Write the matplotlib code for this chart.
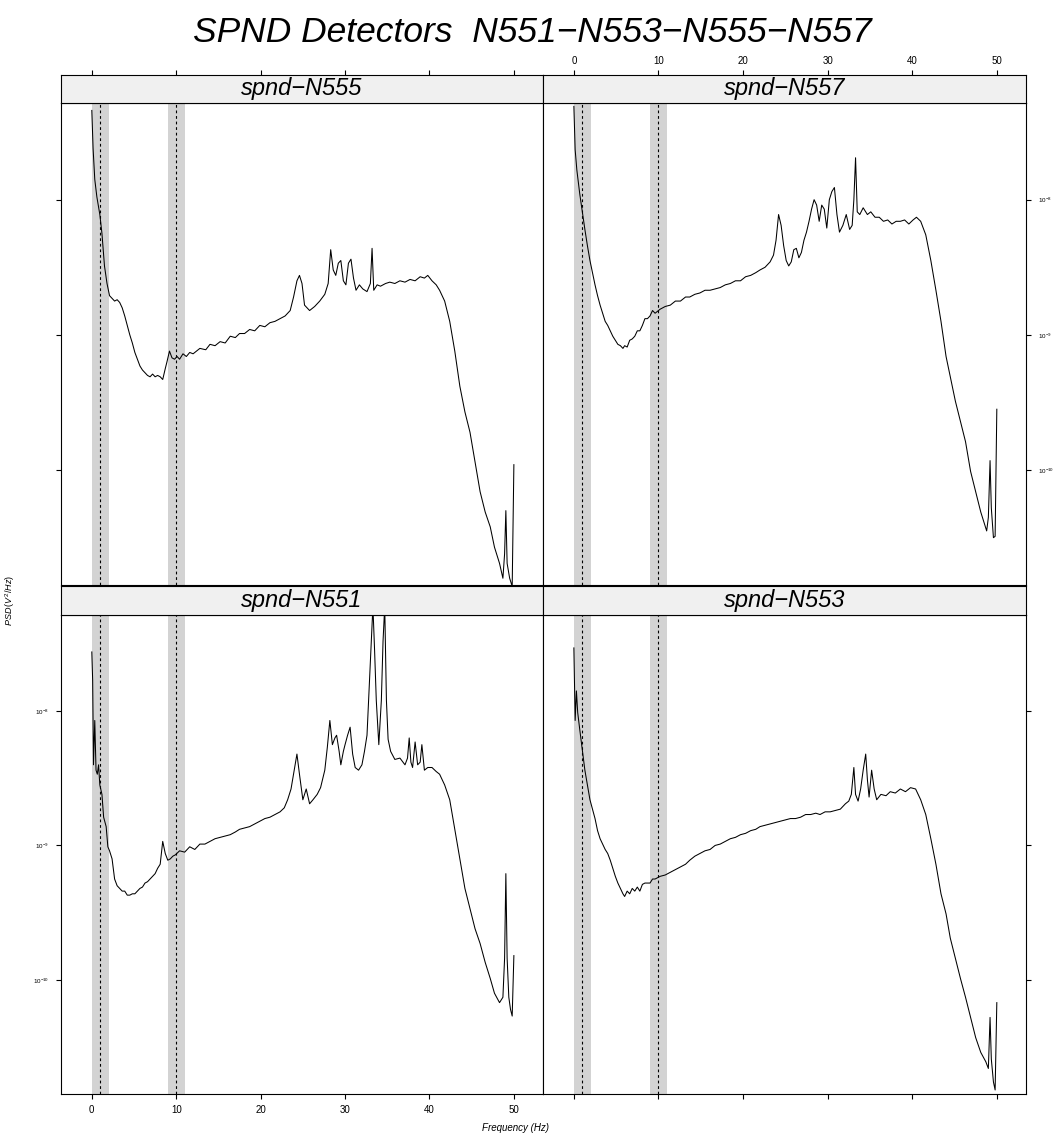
import numpy as np
import matplotlib
matplotlib.use("Agg")
import matplotlib.pyplot as plt

plt.rcParams['font.family'] = ['Liberation Sans', 'DejaVu Sans']
plt.rcParams['mathtext.fontset'] = 'custom'
plt.rcParams['mathtext.rm'] = 'Liberation Sans'
plt.rcParams['mathtext.it'] = 'Liberation Sans:italic'

TITLE = "SPND Detectors  N551\u2212N553\u2212N555\u2212N557"
panel_names = ["spnd\u2212N555", "spnd\u2212N557", "spnd\u2212N551", "spnd\u2212N553"]
x_label = "Frequency (Hz)"
y_label = r"$PSD\,(V^2/Hz)$"
x_ticks = [0, 10, 20, 30, 40, 50]
y_ticks = [1e-8, 1e-9, 1e-10]
y_ticklabels = [r"$10^{-8}$", r"$10^{-9}$", r"$10^{-10}$"]
bands = [(0, 2), (9, 11)]
band_centers = [1, 10]

# --- spnd-N555 (frequency in Hz, log10 of PSD)
f_555 = [0, 0.15, 0.35, 0.6, 0.95, 1.2, 1.5, 1.8, 2.1, 2.4, 2.7, 3.0, 3.3, 3.6, 3.9, 4.2, 4.5, 4.8,
         5.1, 5.4, 5.7, 6.0, 6.3, 6.6, 6.9, 7.2, 7.5, 7.8, 8.1, 8.4, 8.7, 8.9, 9.2, 9.5, 9.8, 10.1,
         10.4, 10.8, 11.2, 11.6, 12.0, 12.8, 13.5, 14.0, 14.6, 15.2, 15.8, 16.4, 17.0, 17.5, 18.1,
         18.7, 19.3, 19.9, 20.5, 21.1, 21.7, 22.3, 22.9, 23.5, 23.9, 24.3, 24.6, 24.9, 25.2, 25.8,
         26.4, 27.0, 27.6, 28.0, 28.3, 28.6, 28.9, 29.2, 29.5, 29.8, 30.1, 30.4, 30.7, 31.0, 31.3,
         31.7, 32.1, 32.6, 33.0, 33.2, 33.4, 33.8, 34.2, 34.8, 35.3, 35.9, 36.5, 37.1, 37.7, 38.3,
         38.9, 39.4, 39.8, 40.3, 40.8, 41.2, 41.8, 42.4, 43.0, 43.6, 44.2, 44.8, 45.4, 46.0, 46.6,
         47.2, 47.7, 48.3, 48.7, 48.9, 49.05, 49.2, 49.5, 49.8, 50.0]
p_555 = [-7.34, -7.62, -7.85, -7.98, -8.11, -8.25, -8.49, -8.62, -8.71, -8.73, -8.75, -8.74, -8.76,
         -8.80, -8.86, -8.93, -9.00, -9.06, -9.13, -9.18, -9.23, -9.26, -9.28, -9.30, -9.31, -9.29,
         -9.31, -9.30, -9.31, -9.33, -9.25, -9.20, -9.12, -9.17, -9.18, -9.16, -9.18, -9.14, -9.16,
         -9.13, -9.14, -9.10, -9.11, -9.07, -9.08, -9.05, -9.06, -9.01, -9.02, -8.99, -8.99, -8.96,
         -8.97, -8.93, -8.94, -8.91, -8.90, -8.88, -8.86, -8.82, -8.72, -8.60, -8.56, -8.62, -8.78,
         -8.82, -8.79, -8.75, -8.70, -8.62, -8.37, -8.52, -8.56, -8.47, -8.45, -8.60, -8.63, -8.47,
         -8.44, -8.58, -8.67, -8.63, -8.66, -8.68, -8.62, -8.36, -8.67, -8.63, -8.64, -8.62, -8.61,
         -8.62, -8.60, -8.61, -8.59, -8.60, -8.57, -8.58, -8.56, -8.60, -8.63, -8.67, -8.75, -8.90,
         -9.12, -9.38, -9.57, -9.72, -9.94, -10.16, -10.31, -10.42, -10.57, -10.69, -10.80, -10.62,
         -10.30, -10.69, -10.80, -10.86, -9.96]

# --- spnd-N557
f_557 = [0, 0.15, 0.35, 0.7, 1.0, 1.3, 1.6, 1.9, 2.2, 2.5, 2.8, 3.1, 3.4, 3.7, 4.0, 4.3, 4.6, 4.9,
         5.2, 5.5, 5.8, 6.0, 6.3, 6.6, 6.9, 7.2, 7.5, 7.8, 8.1, 8.4, 8.7, 9.0, 9.3, 9.6, 10.2, 10.8,
         11.4, 12.0, 12.6, 13.2, 13.7, 14.3, 14.9, 15.5, 16.1, 16.7, 17.3, 17.9, 18.5, 19.1, 19.7,
         20.3, 20.9, 21.5, 22.0, 22.6, 23.2, 23.6, 23.9, 24.2, 24.5, 24.8, 25.1, 25.4, 25.7, 26.0,
         26.3, 26.6, 26.9, 27.2, 27.5, 27.8, 28.1, 28.4, 28.7, 29.0, 29.3, 29.6, 29.9, 30.2, 30.5,
         30.8, 31.1, 31.4, 31.8, 32.2, 32.6, 32.9, 33.1, 33.3, 33.5, 33.8, 34.2, 34.7, 35.1, 35.6,
         36.1, 36.6, 37.1, 37.6, 38.1, 38.6, 39.1, 39.6, 40.1, 40.5, 41.0, 41.6, 42.2, 42.8, 43.4,
         44.0, 44.5, 45.1, 45.7, 46.3, 46.9, 47.5, 48.1, 48.5, 48.8, 49.0, 49.2, 49.35, 49.6, 49.8,
         50.0]
p_557 = [-7.31, -7.63, -7.78, -7.96, -8.09, -8.22, -8.34, -8.45, -8.54, -8.63, -8.71, -8.78, -8.84,
         -8.90, -8.93, -8.97, -9.01, -9.04, -9.07, -9.08, -9.10, -9.08, -9.09, -9.04, -9.03, -9.01,
         -8.97, -8.97, -8.93, -8.88, -8.88, -8.86, -8.82, -8.84, -8.81, -8.79, -8.78, -8.75, -8.75,
         -8.72, -8.72, -8.70, -8.69, -8.67, -8.67, -8.66, -8.65, -8.63, -8.62, -8.60, -8.60, -8.57,
         -8.56, -8.54, -8.52, -8.50, -8.46, -8.41, -8.30, -8.11, -8.19, -8.34, -8.45, -8.49, -8.46,
         -8.37, -8.36, -8.43, -8.39, -8.30, -8.24, -8.16, -8.07, -8.00, -8.04, -8.16, -8.04, -8.07,
         -8.21, -8.00, -7.94, -7.91, -8.11, -8.24, -8.19, -8.11, -8.22, -8.19, -8.00, -7.69, -8.09,
         -8.11, -8.06, -8.11, -8.09, -8.13, -8.13, -8.16, -8.15, -8.18, -8.16, -8.16, -8.15, -8.18,
         -8.15, -8.13, -8.16, -8.26, -8.45, -8.67, -8.90, -9.16, -9.31, -9.49, -9.64, -9.79, -10.01,
         -10.16, -10.31, -10.39, -10.45, -10.35, -9.93, -10.28, -10.50, -10.49, -9.55]

# --- spnd-N551
f_551 = [0, 0.1, 0.2, 0.35, 0.5, 0.65, 0.8, 0.95, 1.2, 1.4, 1.7, 1.9, 2.1, 2.4, 2.7, 3.0, 3.3, 3.6,
         3.9, 4.2, 4.5, 4.8, 5.1, 5.4, 5.7, 6.0, 6.3, 6.6, 6.9, 7.2, 7.5, 7.8, 8.1, 8.4, 8.7, 9.0,
         9.3, 9.6, 9.9, 10.4, 11.0, 11.6, 12.2, 12.8, 13.4, 14.0, 14.6, 15.2, 15.8, 16.4, 17.0, 17.5,
         18.1, 18.7, 19.3, 19.9, 20.5, 21.1, 21.7, 22.3, 22.8, 23.2, 23.6, 23.9, 24.3, 24.6, 25.0,
         25.4, 25.8, 26.2, 26.7, 27.1, 27.6, 27.9, 28.2, 28.5, 28.8, 29.0, 29.3, 29.5, 29.8, 30.0,
         30.3, 30.6, 30.9, 31.2, 31.6, 32.0, 32.3, 32.6, 32.9, 33.1, 33.3, 33.5, 33.7, 34.0, 34.3,
         34.5, 34.7, 34.9, 35.1, 35.4, 35.9, 36.5, 37.1, 37.4, 37.6, 37.8, 38.0, 38.3, 38.6, 38.9,
         39.1, 39.4, 39.8, 40.3, 40.8, 41.2, 41.8, 42.4, 43.0, 43.6, 44.2, 44.8, 45.4, 46.0, 46.6,
         47.2, 47.7, 48.3, 48.7, 48.9, 49.05, 49.2, 49.4, 49.6, 49.8, 50.0]
p_551 = [-7.56, -7.77, -8.40, -8.07, -8.44, -8.47, -8.40, -8.55, -8.62, -8.79, -8.86, -9.01, -9.04,
         -9.10, -9.25, -9.30, -9.32, -9.34, -9.34, -9.37, -9.37, -9.36, -9.36, -9.34, -9.32, -9.31,
         -9.28, -9.27, -9.25, -9.23, -9.21, -9.17, -9.14, -8.97, -9.06, -9.11, -9.10, -9.08, -9.07,
         -9.04, -9.05, -9.01, -9.03, -8.99, -8.99, -8.97, -8.95, -8.94, -8.93, -8.92, -8.90, -8.88,
         -8.87, -8.86, -8.84, -8.82, -8.80, -8.79, -8.77, -8.75, -8.72, -8.66, -8.58, -8.47, -8.32,
         -8.47, -8.66, -8.58, -8.69, -8.66, -8.62, -8.57, -8.44, -8.27, -8.07, -8.25, -8.20, -8.18,
         -8.30, -8.40, -8.30, -8.25, -8.18, -8.12, -8.32, -8.42, -8.44, -8.40, -8.30, -8.18, -7.77,
         -7.48, -7.22, -7.55, -7.92, -8.25, -7.92, -7.48, -7.22, -7.92, -8.21, -8.30, -8.36, -8.35,
         -8.40, -8.35, -8.20, -8.38, -8.42, -8.23, -8.40, -8.38, -8.25, -8.44, -8.42, -8.42, -8.45,
         -8.47, -8.55, -8.66, -8.88, -9.10, -9.32, -9.47, -9.62, -9.73, -9.87, -9.99, -10.10, -10.17,
         -10.13, -9.84, -9.21, -9.84, -10.13, -10.22, -10.27, -9.82]

# --- spnd-N553
f_553 = [0, 0.15, 0.3, 0.45, 0.7, 1.0, 1.3, 1.6, 1.9, 2.2, 2.5, 2.8, 3.1, 3.4, 3.7, 4.0, 4.3, 4.6,
         4.9, 5.2, 5.5, 5.8, 6.0, 6.3, 6.6, 6.9, 7.2, 7.5, 7.8, 8.1, 8.4, 8.7, 9.0, 9.3, 9.6, 10.2,
         10.8, 11.4, 12.0, 12.6, 13.2, 13.7, 14.3, 14.9, 15.5, 16.1, 16.7, 17.3, 17.9, 18.5, 19.1,
         19.7, 20.3, 20.9, 21.5, 22.0, 22.6, 23.2, 23.8, 24.4, 25.0, 25.6, 26.2, 26.8, 27.4, 28.0,
         28.6, 29.1, 29.7, 30.3, 30.9, 31.5, 32.1, 32.5, 32.8, 33.1, 33.3, 33.6, 33.9, 34.2, 34.5,
         34.7, 34.9, 35.2, 35.5, 35.8, 36.3, 36.9, 37.4, 38.0, 38.6, 39.2, 39.8, 40.4, 41.0, 41.6,
         42.2, 42.8, 43.4, 44.0, 44.5, 45.1, 45.7, 46.3, 46.9, 47.5, 48.1, 48.7, 49.0, 49.2, 49.35,
         49.6, 49.8, 50.0]
p_553 = [-7.53, -8.07, -7.85, -8.01, -8.14, -8.29, -8.44, -8.55, -8.66, -8.73, -8.80, -8.89, -8.95,
         -8.99, -9.03, -9.06, -9.11, -9.17, -9.23, -9.28, -9.32, -9.36, -9.38, -9.34, -9.36, -9.32,
         -9.34, -9.31, -9.34, -9.29, -9.28, -9.28, -9.28, -9.25, -9.25, -9.23, -9.22, -9.20, -9.18,
         -9.16, -9.14, -9.11, -9.08, -9.06, -9.04, -9.03, -9.00, -8.99, -8.97, -8.95, -8.94, -8.92,
         -8.91, -8.89, -8.88, -8.86, -8.85, -8.84, -8.83, -8.82, -8.81, -8.80, -8.80, -8.79, -8.77,
         -8.77, -8.76, -8.77, -8.75, -8.75, -8.74, -8.73, -8.69, -8.67, -8.62, -8.42, -8.62, -8.67,
         -8.58, -8.44, -8.32, -8.51, -8.64, -8.44, -8.58, -8.66, -8.62, -8.63, -8.60, -8.61, -8.58,
         -8.60, -8.57, -8.58, -8.66, -8.77, -8.95, -9.14, -9.36, -9.51, -9.69, -9.84, -9.99, -10.13,
         -10.28, -10.43, -10.54, -10.61, -10.66, -10.28, -10.59, -10.76, -10.82, -10.17]

series = [(f_555, p_555), (f_557, p_557), (f_551, p_551), (f_553, p_553)]

W, H = 1061, 1135
fig = plt.figure(figsize=(W / 100, H / 100), dpi=100)


def rect(x0, x1, ytop, ybot):
    return [x0 / W, 1 - ybot / H, (x1 - x0) / W, (ybot - ytop) / H]


cols = [(61, 543), (543, 1026)]
rows = [((75, 103), (103, 585)), ((586, 615), (615, 1094))]
XLIM = (-3.65, 53.45)
YLIM = (10 ** -10.85, 10 ** -7.285)
TICKLEN = 3.6
LW = 0.8

for idx, (fx, py) in enumerate(series):
    r, c = divmod(idx, 2)
    (sx0, sx1) = cols[c]
    (st, sb), (pt, pb) = rows[r]
    ax = fig.add_axes(rect(sx0, sx1, pt, pb))
    sax = fig.add_axes(rect(sx0, sx1, st, sb))
    for a in (ax, sax):
        a.set_xlim(*XLIM)
        for s in a.spines.values():
            s.set_linewidth(LW)
            s.set_color('black')
    sax.set_facecolor('#f0f0f0')
    sax.set_yticks([])
    sax.text(0.5, 0.5, panel_names[idx], transform=sax.transAxes, ha='center', va='center',
             fontsize=17, style='italic')
    for (b0, b1) in bands:
        ax.axvspan(b0, b1, color='#d3d3d3', lw=0, zorder=1)
    for bc in band_centers:
        ax.axvline(bc, color='black', lw=0.8, ls=(0, (2.5, 2.5)), zorder=2)
    ax.plot(fx, 10 ** np.array(py), color='black', lw=0.75, zorder=3)
    ax.set_yscale('log')
    ax.set_ylim(*YLIM)
    ax.minorticks_off()
    ax.yaxis.set_minor_locator(matplotlib.ticker.NullLocator())

    # x ticks
    ax.set_xticks(x_ticks)
    sax.set_xticks(x_ticks)
    ax.tick_params(axis='x', direction='out', length=TICKLEN, width=LW, labelsize=7,
                   top=False, bottom=(r == 1), labelbottom=(r == 1 and c == 0), pad=4)
    sax.tick_params(axis='x', direction='out', length=TICKLEN, width=LW, labelsize=7,
                    bottom=False, labelbottom=False, top=(r == 0), labeltop=(r == 0 and c == 1), pad=3)
    # y ticks
    ax.set_yticks(y_ticks)
    ax.set_yticklabels(y_ticklabels)
    ax.tick_params(axis='y', direction='out', length=TICKLEN, width=LW, labelsize=4.5,
                   left=(c == 0), right=(c == 1),
                   labelleft=(c == 0 and r == 1), labelright=(c == 1 and r == 0), pad=5)

fig.text(532 / W, 1 - 32 / H, TITLE, ha='center', va='center', fontsize=25.5, style='italic')
fig.text(515 / W, 1 - 1128 / H, x_label, ha='center', va='center', fontsize=7, style='italic')
fig.text(10 / W, 1 - 600 / H, y_label, ha='center', va='center', fontsize=6.5, rotation=90)

fig.savefig('out.png', dpi=100)
